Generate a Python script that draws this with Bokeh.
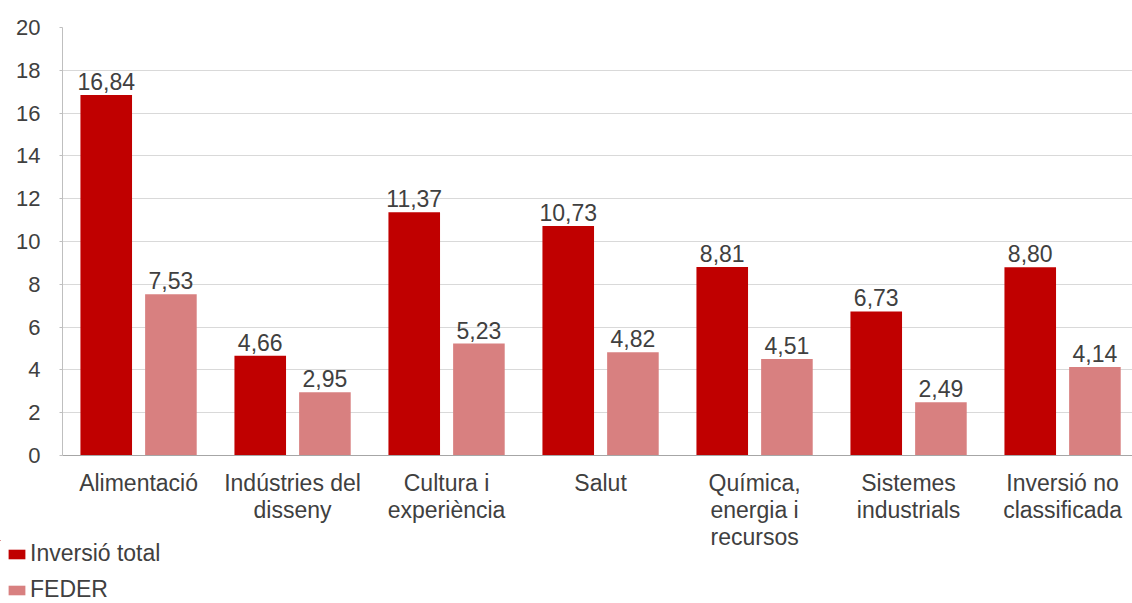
from bokeh.plotting import figure
from bokeh.layouts import column
from bokeh.models import (ColumnDataSource, LabelSet, Legend, LegendItem,
                          FixedTicker, Range1d, LinearAxis)
from bokeh.core.properties import value
from bokeh.embed import file_html
from bokeh.resources import INLINE

categories = ["Alimentació", "Indústries del\ndisseny", "Cultura i\nexperiència",
              "Salut", "Química,\nenergia i\nrecursos", "Sistemes\nindustrials",
              "Inversió no\nclassificada"]
inversio_total = [16.84, 4.66, 11.37, 10.73, 8.81, 6.73, 8.80]
feder = [7.53, 2.95, 5.23, 4.82, 4.51, 2.49, 4.14]
y_ticks = [0, 2, 4, 6, 8, 10, 12, 14, 16, 18, 20]
series_names = ["Inversió total", "FEDER"]

DARK = "#C00000"
LIGHT = "#D88080"
FONT = "Liberation Sans"
TXT = "#404040"

xs = list(range(len(categories)))
off = 0.21
bw = 0.335

p = figure(width=1132, height=603, output_backend="svg", toolbar_location=None,
           x_range=Range1d(-0.494, 6.454), y_range=Range1d(0, 20),
           min_border_left=62, min_border_top=27, min_border_right=0,
           min_border_bottom=148)
p.outline_line_color = None
p.background_fill_color = "white"
p.frame_align = False

src = ColumnDataSource(dict(
    xt=[x - off for x in xs], xf=[x + off for x in xs],
    total=inversio_total, feder=feder,
    lt=[f"{v:.2f}".replace(".", ",") for v in inversio_total],
    lf=[f"{v:.2f}".replace(".", ",") for v in feder],
))

r1 = p.vbar(x="xt", top="total", width=bw, source=src, fill_color=DARK, line_color=None)
r2 = p.vbar(x="xf", top="feder", width=bw, source=src, fill_color=LIGHT, line_color=None)

for xcol, ycol, tcol in (("xt", "total", "lt"), ("xf", "feder", "lf")):
    p.add_layout(LabelSet(x=xcol, y=ycol, text=tcol, source=src, text_align="center",
                          text_baseline="alphabetic", y_offset=5,
                          text_font=value(FONT), text_font_size="23px",
                          text_color=TXT))

# category labels: one stacked axis per text line
lines = [c.split("\n") for c in categories]
nlines = max(len(l) for l in lines)
p.xaxis.ticker = FixedTicker(ticks=xs)
p.xaxis.major_label_overrides = {i: l[0] for i, l in zip(xs, lines)}
p.xaxis.axis_line_color = "#a6a6a6"
p.xaxis.major_tick_line_color = None
p.xaxis.minor_tick_line_color = None
p.xaxis.major_tick_out = 0
p.xaxis.major_tick_in = 0
p.xaxis.major_label_standoff = 14
p.xaxis.major_label_text_font = FONT
p.xaxis.major_label_text_font_size = "23px"
p.xaxis.major_label_text_color = TXT
for k in range(1, nlines):
    ax = LinearAxis(ticker=FixedTicker(ticks=xs),
                    major_label_overrides={i: (l[k] if len(l) > k else "") for i, l in zip(xs, lines)},
                    axis_line_color=None, major_tick_line_color=None,
                    minor_tick_line_color=None, major_tick_out=0, major_tick_in=0,
                    major_label_standoff=-2,
                    major_label_text_font=FONT, major_label_text_font_size="23px",
                    major_label_text_color=TXT)
    p.add_layout(ax, "below")

p.yaxis.ticker = FixedTicker(ticks=y_ticks)
p.yaxis.axis_line_color = "#bfbfbf"
p.yaxis.major_tick_line_color = "#bfbfbf"
p.yaxis.major_tick_out = 3
p.yaxis.major_tick_in = 0
p.yaxis.minor_tick_line_color = None
p.yaxis.major_label_text_font = FONT
p.yaxis.major_label_text_font_size = "22px"
p.yaxis.major_label_text_color = TXT
p.yaxis.major_label_standoff = 19

p.xgrid.grid_line_color = None
p.ygrid.grid_line_color = "#d9d9d9"
p.ygrid.ticker = FixedTicker(ticks=y_ticks)

# legend in an overlaid transparent strip at the bottom-left
# (its own renderers are kept outside that strip's visible ranges)
lf = figure(width=1132, height=63, output_backend="svg", toolbar_location=None,
            x_axis_location=None, y_axis_location=None,
            x_range=Range1d(40, 41), y_range=Range1d(-41, -40),
            min_border_left=0, min_border_right=0, min_border_top=0, min_border_bottom=0)
lf.frame_align = False
lf.outline_line_color = None
lf.background_fill_alpha = 0
lf.border_fill_alpha = 0
lf.xgrid.visible = False
lf.ygrid.visible = False
d1 = lf.vbar(x=xs, top=inversio_total, width=bw, fill_color=DARK, line_color=None)
d2 = lf.vbar(x=xs, top=feder, width=bw, fill_color=LIGHT, line_color=None)
legend = Legend(items=[LegendItem(label=series_names[0], renderers=[d1]),
                       LegendItem(label=series_names[1], renderers=[d2])],
                orientation="vertical", location=(6, 0),
                label_text_font=FONT, label_text_font_size="23px",
                label_text_color=TXT, glyph_width=21, glyph_height=12,
                label_height=26, spacing=9, padding=0, margin=0,
                border_line_color=None, background_fill_alpha=0, label_standoff=3)
lf.add_layout(legend, "center")
lf.margin = (-63, 0, 0, 0)

layout = column(p, lf, spacing=0)
open("out.html", "w").write(file_html(layout, INLINE))
